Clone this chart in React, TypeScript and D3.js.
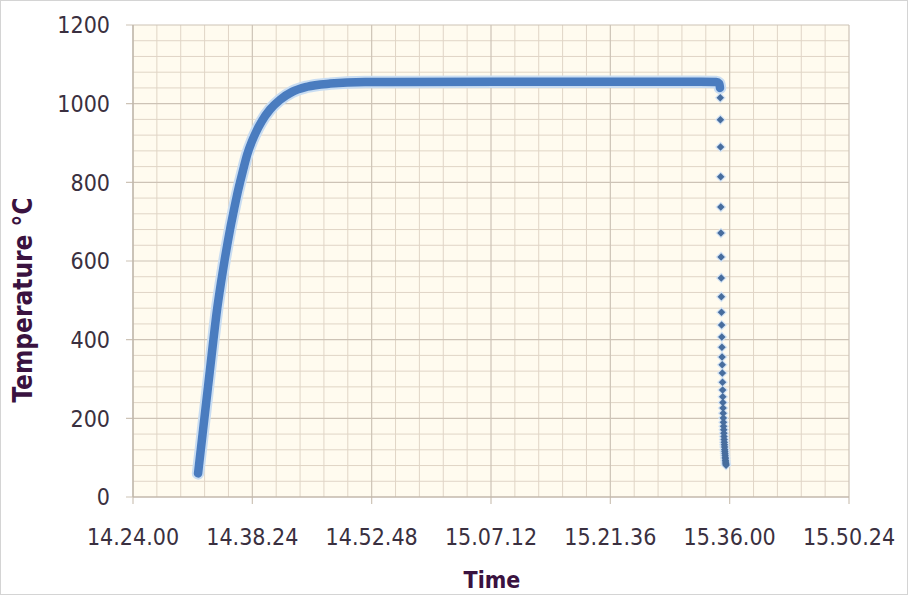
import React from "react";
import * as d3 from "d3";

const xTickLabels = ["14.24.00", "14.38.24", "14.52.48", "15.07.12", "15.21.36", "15.36.00", "15.50.24"];
const yTicks = [0, 200, 400, 600, 800, 1000, 1200];

const heatTimes = [
  "14.31.51", "14.32.27", "14.33.03", "14.33.39", "14.34.08", "14.34.37", "14.35.06", "14.35.27",
  "14.35.48", "14.36.12", "14.36.33", "14.36.55", "14.37.19", "14.37.48", "14.38.22", "14.38.51",
  "14.39.32", "14.40.32", "14.41.45", "14.43.12", "14.45.00", "14.47.48", "14.52.00", "15.08.18",
  "15.20.23", "15.32.27", "15.34.23", "15.34.45", "15.34.50",
];
const heatTemps = [
  60, 170, 280, 390, 475, 545, 608, 650,
  690, 732, 767, 800, 834, 872, 905, 928,
  955, 985, 1010, 1030, 1043, 1051, 1055, 1056,
  1056, 1056, 1055, 1051, 1040,
];

const coolTimes = [
  "15.34.52", "15.34.53", "15.34.54", "15.34.55", "15.34.56", "15.34.57", "15.34.58", "15.34.59",
  "15.35.00", "15.35.01", "15.35.02", "15.35.03", "15.35.04", "15.35.05", "15.35.06", "15.35.07",
  "15.35.08", "15.35.09", "15.35.10", "15.35.11", "15.35.12", "15.35.13", "15.35.14", "15.35.15",
  "15.35.16", "15.35.17", "15.35.18", "15.35.19", "15.35.20", "15.35.21", "15.35.22", "15.35.23",
  "15.35.24", "15.35.25", "15.35.26", "15.35.27", "15.35.28", "15.35.29", "15.35.30", "15.35.31",
  "15.35.32", "15.35.33", "15.35.34",
];
const coolTemps = [
  1015, 959, 890, 814, 737, 671, 610, 557,
  509, 470, 437, 407, 381, 356, 336, 315,
  292, 272, 255, 240, 226, 213, 201, 190,
  180, 171, 162, 154, 146, 139, 133, 127,
  121, 116, 111, 106, 101, 97, 93, 89,
  86, 83, 81,
];

const toSec = (s: string) => {
  const [h, m, sec] = s.split(".").map(Number);
  return h * 3600 + m * 60 + sec;
};

const W = 910;
const H = 595;
const M = { left: 133, right: 849, top: 25, bottom: 497 };

export default function App() {
  const tickSecs = xTickLabels.map(toSec);
  const x = d3.scaleLinear().domain([tickSecs[0], tickSecs[tickSecs.length - 1]]).range([M.left, M.right]);
  const y = d3.scaleLinear().domain([0, 1200]).range([M.bottom, M.top]);

  const majorStep = tickSecs[1] - tickSecs[0];
  const minorX: number[] = [];
  for (let i = 0; i < tickSecs.length - 1; i++) {
    for (let k = 1; k < 5; k++) minorX.push(tickSecs[i] + (majorStep * k) / 5);
  }
  const minorY: number[] = [];
  for (let i = 0; i < yTicks.length - 1; i++) {
    for (let k = 1; k < 5; k++) minorY.push(yTicks[i] + ((yTicks[i + 1] - yTicks[i]) * k) / 5);
  }

  const heat = heatTimes.map((t, i) => [toSec(t), heatTemps[i]] as [number, number]);
  const cool = coolTimes.map((t, i) => [toSec(t), coolTemps[i]] as [number, number]);
  const line = d3
    .line<[number, number]>()
    .x((d) => x(d[0]))
    .y((d) => y(d[1]))
    .curve(d3.curveMonotoneX);
  const heatPath = line(heat) || "";
  const marker = d3.symbol().type(d3.symbolDiamond2).size(36)() || "";

  const font = "'DejaVu Sans Condensed', 'Liberation Sans', sans-serif";
  const tickColor = "#3a3040";
  const titleColor = "#3a1240";

  return (
    <svg width={W} height={H} style={{ position: "absolute", left: 0, top: 0, background: "#ffffff" }}>
      <rect x={0.5} y={0.5} width={907} height={H - 1} fill="#ffffff" stroke="#d4d4d4" />
      <rect x={M.left} y={M.top} width={M.right - M.left} height={M.bottom - M.top} fill="#fffbef" />
      {minorX.map((v, i) => (
        <line key={"mx" + i} x1={x(v)} x2={x(v)} y1={M.top} y2={M.bottom} stroke="#e0d5c6" strokeWidth={1} />
      ))}
      {minorY.map((v, i) => (
        <line key={"my" + i} x1={M.left} x2={M.right} y1={y(v)} y2={y(v)} stroke="#e0d5c6" strokeWidth={1} />
      ))}
      {tickSecs.map((v, i) => (
        <line key={"gx" + i} x1={x(v)} x2={x(v)} y1={M.top} y2={M.bottom + 7} stroke="#cdc3b6" strokeWidth={1.2} />
      ))}
      {yTicks.map((v, i) => (
        <line key={"gy" + i} x1={M.left - 7} x2={M.right} y1={y(v)} y2={y(v)} stroke="#cdc3b6" strokeWidth={1.2} />
      ))}
      <line x1={M.left} x2={M.left} y1={M.top} y2={M.bottom} stroke="#bdb4a8" strokeWidth={1.2} />
      <line x1={M.left} x2={M.right} y1={M.bottom} y2={M.bottom} stroke="#bdb4a8" strokeWidth={1.2} />

      {/* heating + hold band */}
      <path d={heatPath} fill="none" stroke="#c9ddf2" strokeWidth={12.5} strokeLinecap="round" strokeLinejoin="round" />
      <path d={heatPath} fill="none" stroke="#4a7cbf" strokeWidth={8.5} strokeLinecap="round" strokeLinejoin="round" />
      {/* cooling markers */}
      {cool.map((d, i) => (
        <path key={"ch" + i} d={marker} transform={`translate(${x(d[0])},${y(d[1])}) scale(1.45)`} fill="#d3e3f4" />
      ))}
      {cool.map((d, i) => (
        <path key={"c" + i} d={marker} transform={`translate(${x(d[0])},${y(d[1])})`} fill="#476d9e" />
      ))}

      {yTicks.map((v, i) => (
        <text key={"yl" + i} x={110} y={y(v)} dy="0.36em" textAnchor="end" fontFamily={font} fontSize={23} fill={tickColor}>
          {v}
        </text>
      ))}
      {xTickLabels.map((l, i) => (
        <text key={"xl" + i} x={x(tickSecs[i])} y={545} textAnchor="middle" fontFamily={font} fontSize={23} fill={tickColor}>
          {l}
        </text>
      ))}
      <text x={492} y={588} textAnchor="middle" fontFamily={font} fontWeight="bold" fontSize={23} fill={titleColor}>
        Time
      </text>
      <text
        transform={`translate(32,300) rotate(-90)`}
        textAnchor="middle"
        fontFamily={font}
        fontWeight="bold"
        fontSize={26}
        fill={titleColor}
      >
        Temperature °C
      </text>
    </svg>
  );
}
